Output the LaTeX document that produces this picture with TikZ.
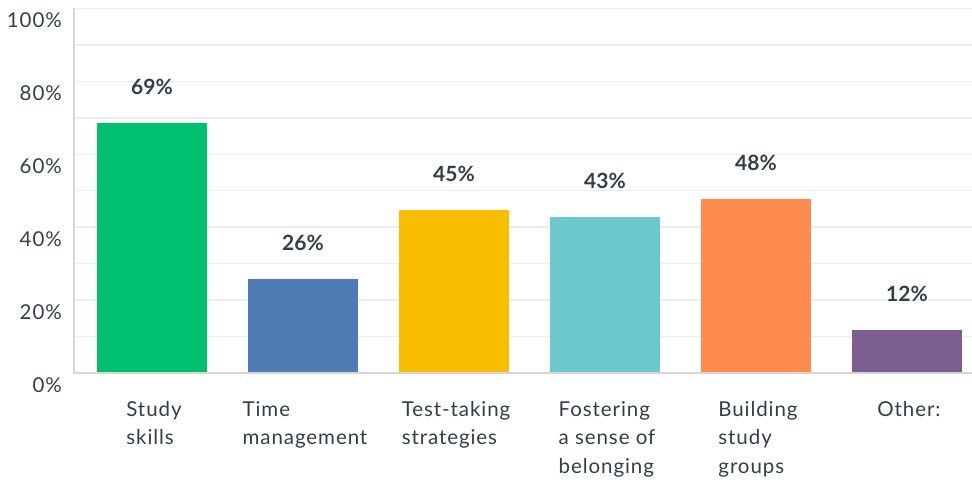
\documentclass[tikz,border=0pt]{standalone}
\usepackage{fontspec}
\setmainfont{Lato}
\newfontfamily\chartfont{Lato}[LetterSpace=4.5]
\usetikzlibrary{positioning}
\definecolor{barGreen}{HTML}{00BF6F}
\definecolor{barBlue}{HTML}{507CB6}
\definecolor{barYellow}{HTML}{F9BE00}
\definecolor{barTeal}{HTML}{6BC8CD}
\definecolor{barOrange}{HTML}{FF8B4F}
\definecolor{barPurple}{HTML}{7D5E90}
\definecolor{gridGrey}{HTML}{EDEDED}
\definecolor{axisGrey}{HTML}{D6D6D6}
\definecolor{labelInk}{HTML}{333E48}
\tikzset{
  gridline/.style={draw=gridGrey, line width=1.5pt},
  axisline/.style={draw=axisGrey, line width=2pt},
  ticklabel/.style={anchor=east, inner sep=0pt, text=labelInk, font={\fontsize{20.5}{24}\chartfont}},
  vallabel/.style={inner sep=0pt, text=labelInk, font={\fontsize{21}{25}\selectfont\bfseries}},
  catlabel/.style={anchor=north, inner sep=0pt, align=left, text=labelInk, font={\fontsize{20.5}{28.5}\chartfont}}
}

\begin{document}
\begin{tikzpicture}[x=1pt,y=-1pt]
    \useasboundingbox (0,0) rectangle (972,481);
    % grid
    \foreach \k in {1,...,10}
        \draw[gridline] (75,{373-36.45*\k}) -- (972,{373-36.45*\k});
    \coordinate (O) at (74,373);
    \coordinate (T) at (74,8);
    \coordinate (R) at (972,373);
    % y labels
    \foreach \p [count=\j from 0] in {0,20,40,60,80,100}
        \node[ticklabel] (tick\p) at (62,{373-72.9*\j+12}) {\p\%};
    % bars
    \foreach \v/\col/\txt [count=\i] in {69/barGreen/{Study\\skills},
        26/barBlue/{Time\\management},
        45/barYellow/{Test-taking\\strategies},
        43/barTeal/{Fostering\\a sense of\\belonging},
        48/barOrange/{Building\\study\\groups},
        12/barPurple/{Other:}}
    {
        \fill[\col] ({97+151*(\i-1)},373) rectangle ++(110,{-3.62*\v});
        \node[vallabel] (val\i) at ({152+151*(\i-1)},{373-3.62*\v-36}) {\v\%};
        \node[catlabel] (cat\i) at ({154+151*(\i-1)},401) {\txt};
    }
    \draw[axisline] (T) -- (O) -- (R);
\end{tikzpicture}
\end{document}
